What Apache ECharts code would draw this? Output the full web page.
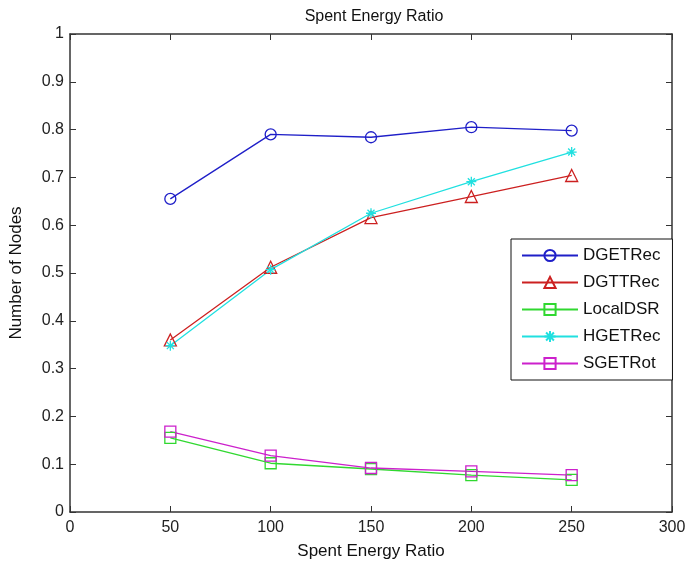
<!DOCTYPE html>
<html>
<head>
<meta charset="utf-8">
<script src="https://cdn.jsdelivr.net/npm/echarts@6/dist/echarts.min.js"></script>
<style>
html, body { margin: 0; padding: 0; background: #fff; }
#chart { width: 690px; height: 566px; }
</style>
</head>
<body>
<div id="chart"></div>
<script>
// x positions
var xValues = [50, 100, 150, 200, 250]
// series values
var dgetrec = [0.655, 0.790, 0.784, 0.805, 0.798]
var dgttrec = [0.360, 0.512, 0.616, 0.660, 0.704]
var localdsr = [0.155, 0.102, 0.090, 0.077, 0.067]
var hgetrec = [0.348, 0.507, 0.625, 0.691, 0.753]
var sgetrot = [0.168, 0.118, 0.092, 0.085, 0.077]

var seriesNames = ["DGETRec", "DGTTRec", "LocalDSR", "HGETRec", "SGETRot"]

var font = "Liberation Sans"
var axisColor = "#333"

function pairs(arr) {
    return xValues.map(function(x, i) { return [x, arr[i]] })
}

// MATLAB style asterisk marker
var star = "path://M5,0L5,10M0,5L10,5M1.5,1.5L8.5,8.5M1.5,8.5L8.5,1.5"

function makeSeries(name, data, color, symbol, size) {
    return {
        name: name,
        type: "line",
        data: pairs(data),
        symbol: symbol,
        symbolSize: size,
        showAllSymbol: true,
        lineStyle: { color: color, width: 1.3 },
        itemStyle: {
            color: "rgba(255,255,255,0)",
            borderColor: color,
            borderWidth: 1.3
        },
        emphasis: { disabled: true },
        animation: false
    }
}

// box axes: ticks inward on all four sides
function boxLine() {
    return { show: true, onZero: false, lineStyle: { color: axisColor, width: 1.5 } }
}
function boxTick() {
    return { show: true, inside: true, length: 6, lineStyle: { color: axisColor } }
}

var chart = echarts.init(document.getElementById("chart"))
var option = {
    backgroundColor: "#fff",
    title: {
        text: "Spent Energy Ratio",
        left: 369,
        textAlign: "center",
        top: 4,
        textStyle: { fontFamily: font, fontSize: 16, fontWeight: "normal", color: "#111" }
    },
    legend: {
        orient: "vertical",
        left: 511,
        top: 239,
        width: 162,
        padding: [8, 12, 8, 10],
        itemGap: 10,
        itemWidth: 56,
        itemHeight: 14,
        backgroundColor: "#fff",
        borderColor: "#111",
        borderWidth: 1,
        data: seriesNames,
        textStyle: { fontFamily: font, fontSize: 17, color: "#111" }
    },
    grid: { left: 67, right: 18, top: 34, bottom: 54 },
    xAxis: [
        {
            type: "value",
            min: 0,
            max: 300,
            interval: 50,
            name: "Spent Energy Ratio",
            nameLocation: "middle",
            nameGap: 31,
            nameTextStyle: { fontFamily: font, fontSize: 17, color: "#111" },
            axisLine: boxLine(),
            axisTick: boxTick(),
            axisLabel: { fontFamily: font, fontSize: 16, color: "#222", margin: 8 },
            splitLine: { show: false }
        },
        {
            type: "value",
            position: "top",
            min: 0,
            max: 300,
            interval: 50,
            axisLine: boxLine(),
            axisTick: boxTick(),
            axisLabel: { show: false },
            splitLine: { show: false }
        }
    ],
    yAxis: [
        {
            type: "value",
            min: 0,
            max: 1,
            interval: 0.1,
            name: "Number of Nodes",
            nameLocation: "middle",
            nameGap: 45,
            nameTextStyle: { fontFamily: font, fontSize: 17, color: "#111" },
            axisLine: boxLine(),
            axisTick: boxTick(),
            axisLabel: {
                fontFamily: font,
                fontSize: 16,
                color: "#222",
                margin: 6,
                formatter: function(v) { return +v.toFixed(1) + "" }
            },
            splitLine: { show: false }
        },
        {
            type: "value",
            position: "right",
            min: 0,
            max: 1,
            interval: 0.1,
            axisLine: boxLine(),
            axisTick: boxTick(),
            axisLabel: { show: false },
            splitLine: { show: false }
        }
    ],
    series: [
        makeSeries("DGETRec", dgetrec, "#1f1fc8", "circle", 11),
        makeSeries("DGTTRec", dgttrec, "#cc2020", "triangle", 12),
        makeSeries("LocalDSR", localdsr, "#30d830", "rect", 11),
        makeSeries("HGETRec", hgetrec, "#20e0e0", star, 10),
        makeSeries("SGETRot", sgetrot, "#cc20cc", "rect", 11)
    ]
}
chart.setOption(option)
</script>
</body>
</html>
